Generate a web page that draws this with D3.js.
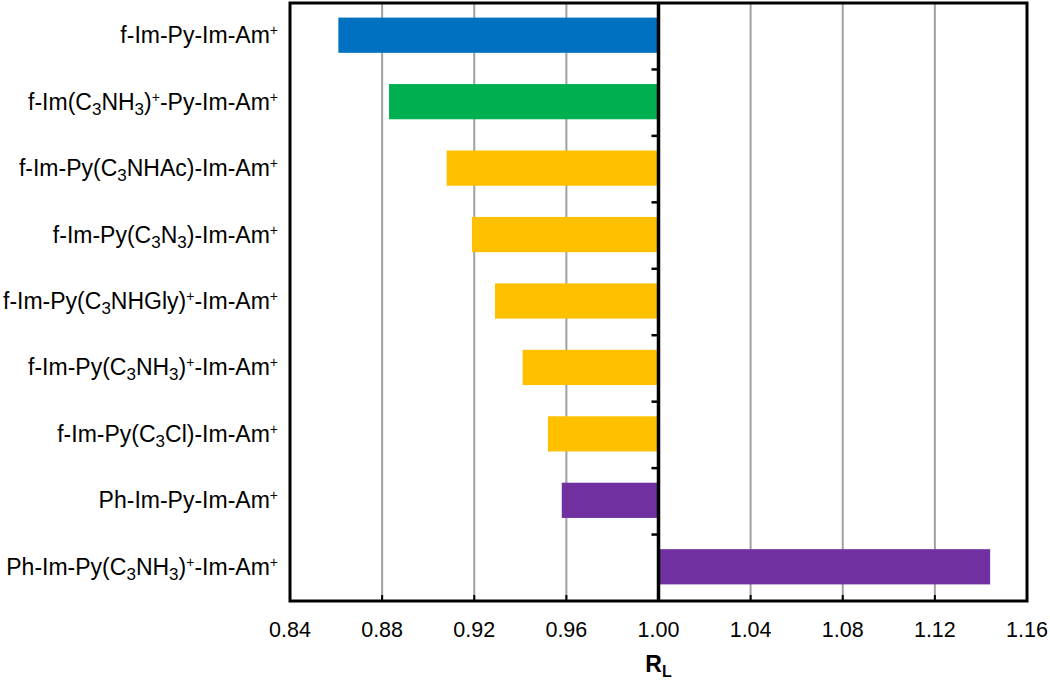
<!DOCTYPE html>
<html>
<head>
<meta charset="utf-8">
<script src="https://cdn.jsdelivr.net/npm/d3@7"></script>
<style>
  body { margin: 0; background: #fff; }
  svg { display: block; font-family: "Liberation Sans", Arial, sans-serif; }
</style>
</head>
<body>
<div id="chart"></div>
<script>
// Compounds, top to bottom. "_x" = subscript char, "^x" = superscript char
const compounds = [
    'f-Im-Py-Im-Am^+',
    'f-Im(C_3NH_3)^+-Py-Im-Am^+',
    'f-Im-Py(C_3NHAc)-Im-Am^+',
    'f-Im-Py(C_3N_3)-Im-Am^+',
    'f-Im-Py(C_3NHGly)^+-Im-Am^+',
    'f-Im-Py(C_3NH_3)^+-Im-Am^+',
    'f-Im-Py(C_3Cl)-Im-Am^+',
    'Ph-Im-Py-Im-Am^+',
    'Ph-Im-Py(C_3NH_3)^+-Im-Am^+'
];
// R_L values
const rlValues = [0.861, 0.883, 0.908, 0.919, 0.929, 0.941, 0.952, 0.958, 1.144];
const barColors = ['#0070c0', '#00b050', '#ffc000', '#ffc000', '#ffc000',
                   '#ffc000', '#ffc000', '#7030a0', '#7030a0'];
const xTicks = [0.84, 0.88, 0.92, 0.96, 1.00, 1.04, 1.08, 1.12, 1.16];
const baseline = 1.00;

const width = 1050, height = 680;
const plotLeft = 290, plotRight = 1027, plotTop = 3, plotBottom = 601;

const svg = d3.select('#chart').append('svg')
    .attr('width', width)
    .attr('height', height);

const x = d3.scaleLinear().domain([0.84, 1.16]).range([plotLeft, plotRight]);
const y = d3.scaleBand().domain(compounds).range([plotTop, plotBottom])
    .paddingInner(0.47).paddingOuter(0.235);

const rows = compounds.map((c, i) => ({name: c, value: rlValues[i], color: barColors[i]}));

// gridlines
svg.append('g')
    .selectAll('line')
    .data(xTicks.filter(t => t > 0.84 && t < 1.16 && t !== baseline))
    .enter()
    .append('line')
    .attr('x1', d => x(d)).attr('x2', d => x(d))
    .attr('y1', plotTop).attr('y2', plotBottom)
    .attr('stroke', '#a0a0a0')
    .attr('stroke-width', 2);

// bars from 1.00
svg.append('g')
    .selectAll('rect')
    .data(rows)
    .enter()
    .append('rect')
    .attr('x', d => Math.min(x(d.value), x(baseline)))
    .attr('width', d => Math.abs(x(d.value) - x(baseline)))
    .attr('y', d => y(d.name) - 1)
    .attr('height', y.bandwidth())
    .attr('fill', d => d.color);

// x axis tick marks (inside, at bottom)
svg.append('g')
    .selectAll('line')
    .data(xTicks)
    .enter()
    .append('line')
    .attr('x1', d => x(d)).attr('x2', d => x(d))
    .attr('y1', plotBottom).attr('y2', plotBottom - 6)
    .attr('stroke', '#000')
    .attr('stroke-width', 2);

// x tick labels
svg.append('g')
    .selectAll('text')
    .data(xTicks)
    .enter()
    .append('text')
    .attr('x', d => x(d))
    .attr('y', 637)
    .attr('text-anchor', 'middle')
    .attr('font-size', '21.5px')
    .attr('fill', '#000')
    .text(d => d3.format('.2f')(d));

// category axis on the 1.00 line
svg.append('line')
    .attr('x1', x(baseline)).attr('x2', x(baseline))
    .attr('y1', plotTop).attr('y2', plotBottom)
    .attr('stroke', '#000')
    .attr('stroke-width', 3.5);

const gap = (y.step() - y.bandwidth()) / 2;
svg.append('g')
    .selectAll('line')
    .data(compounds.slice(1))
    .enter()
    .append('line')
    .attr('x1', x(baseline) - 7).attr('x2', x(baseline))
    .attr('y1', d => y(d) - gap).attr('y2', d => y(d) - gap)
    .attr('stroke', '#000')
    .attr('stroke-width', 2.5);

// plot border
svg.append('rect')
    .attr('x', plotLeft).attr('y', plotTop)
    .attr('width', plotRight - plotLeft).attr('height', plotBottom - plotTop)
    .attr('fill', 'none')
    .attr('stroke', '#000')
    .attr('stroke-width', 3);

// category labels with sub/superscripts
function parseLabel(s) {
    const parts = [];
    let i = 0, buf = '';
    while (i < s.length) {
        const ch = s[i];
        if ((ch === '_' || ch === '^') && i + 1 < s.length) {
            if (buf) { parts.push({t: buf, k: 'n'}); buf = ''; }
            parts.push({t: s[i + 1], k: ch === '_' ? 'sub' : 'sup'});
            i += 2;
        } else {
            buf += ch;
            i++;
        }
    }
    if (buf) parts.push({t: buf, k: 'n'});
    return parts;
}

const labels = svg.append('g')
    .selectAll('text')
    .data(compounds)
    .enter()
    .append('text')
    .attr('x', 278)
    .attr('y', d => y(d) + y.bandwidth() / 2 + 7)
    .attr('text-anchor', 'end')
    .attr('font-size', '23px')
    .attr('fill', '#000');

labels.each(function(d) {
    const t = d3.select(this);
    let shift = 0;
    parseLabel(d).forEach(p => {
        const target = p.k === 'sub' ? 5 : p.k === 'sup' ? -8 : 0;
        t.append('tspan')
            .attr('dy', target - shift)
            .attr('font-size', p.k === 'sub' ? '17px' : p.k === 'sup' ? '14px' : null)
            .text(p.t);
        shift = target;
    });
});

// axis title R_L
const title = svg.append('text')
    .attr('x', x(baseline))
    .attr('y', 672)
    .attr('text-anchor', 'middle')
    .attr('font-size', '23px')
    .attr('font-weight', 'bold')
    .attr('fill', '#000');
title.append('tspan').text('R');
title.append('tspan').attr('dy', 5).attr('font-size', '16px').text('L');
</script>
</body>
</html>
